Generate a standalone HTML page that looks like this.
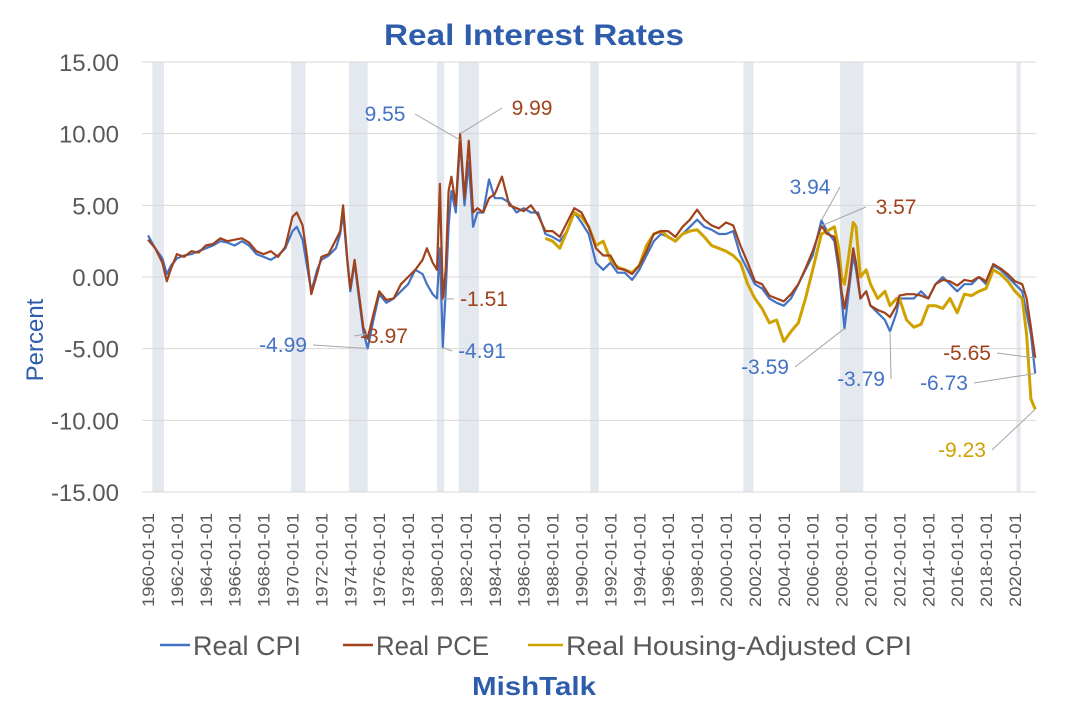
<!DOCTYPE html>
<html><head><meta charset="utf-8"><style>
body{margin:0;background:#fff;width:1080px;height:708px;overflow:hidden;font-family:"Liberation Sans",sans-serif}
svg text{font-family:"Liberation Sans",sans-serif}
</style></head><body>
<svg id="chart" width="1080" height="708" viewBox="0 0 1080 708" xmlns="http://www.w3.org/2000/svg">
<text x="534" y="45" text-anchor="middle" font-size="30" font-weight="bold" fill="#2E5DAB" textLength="300" lengthAdjust="spacingAndGlyphs">Real Interest Rates</text>
<g id="bands"></g>
<g id="grid"></g>
<g id="yticks"></g>
<g id="xticks"></g>
<g id="series"></g>
<g id="labels"></g>
<text transform="translate(43,340) rotate(-90)" text-anchor="middle" font-size="24" fill="#2E5DAB">Percent</text>
<g>
<g><line x1="160" y1="645" x2="190" y2="645" stroke="#4472C4" stroke-width="2.5"/><text x="193" y="655" font-size="27" fill="#595959" textLength="108" lengthAdjust="spacingAndGlyphs">Real CPI</text></g>
<g><line x1="343" y1="645" x2="373" y2="645" stroke="#A0421C" stroke-width="2.5"/><text x="376" y="655" font-size="27" fill="#595959" textLength="113" lengthAdjust="spacingAndGlyphs">Real PCE</text></g>
<g><line x1="528" y1="645" x2="563" y2="645" stroke="#CFA200" stroke-width="2.5"/><text x="566" y="655" font-size="27" fill="#595959" textLength="346" lengthAdjust="spacingAndGlyphs">Real Housing-Adjusted CPI</text></g>
</g>
<text x="534" y="695" text-anchor="middle" font-size="26" font-weight="bold" fill="#2E5DAB" textLength="124" lengthAdjust="spacingAndGlyphs">MishTalk</text>
</svg>
<script>
const years=[1960.0,1960.5,1961.0,1961.3,1961.6,1962.0,1962.5,1963.0,1963.5,1964.0,1964.5,1965.0,1965.5,1966.0,1966.5,1967.0,1967.5,1968.0,1968.5,1969.0,1969.5,1970.0,1970.3,1970.7,1971.0,1971.3,1971.7,1972.0,1972.5,1973.0,1973.3,1973.5,1973.8,1974.0,1974.3,1974.6,1974.9,1975.2,1975.6,1976.0,1976.5,1977.0,1977.5,1978.0,1978.5,1979.0,1979.3,1979.7,1980.0,1980.2,1980.4,1980.6,1980.8,1981.0,1981.3,1981.6,1981.9,1982.2,1982.5,1982.8,1983.2,1983.6,1984.0,1984.5,1985.0,1985.5,1986.0,1986.5,1987.0,1987.5,1988.0,1988.5,1989.0,1989.5,1990.0,1990.5,1991.0,1991.5,1992.0,1992.5,1993.0,1993.5,1994.0,1994.5,1995.0,1995.5,1996.0,1996.5,1997.0,1997.5,1998.0,1998.5,1999.0,1999.5,2000.0,2000.5,2001.0,2001.5,2002.0,2002.5,2003.0,2003.5,2004.0,2004.5,2005.0,2005.5,2006.0,2006.6,2007.0,2007.5,2007.8,2008.0,2008.2,2008.5,2008.8,2009.0,2009.3,2009.7,2010.0,2010.5,2011.0,2011.35,2011.8,2012.0,2012.5,2013.0,2013.5,2014.0,2014.5,2015.0,2015.5,2016.0,2016.5,2017.0,2017.5,2018.0,2018.5,2019.0,2019.5,2020.0,2020.5,2020.8,2021.1,2021.4];
const realCpi=[2.9,2.0,1.3,0.2,0.8,1.3,1.5,1.6,1.8,2.0,2.2,2.5,2.4,2.2,2.5,2.2,1.6,1.4,1.2,1.5,2.0,3.2,3.5,2.6,0.8,-1.0,0.5,1.2,1.5,2.0,3.0,4.5,1.0,-1.0,1.0,-1.5,-3.8,-4.99,-3.0,-1.2,-1.8,-1.5,-1.0,-0.5,0.5,0.2,-0.5,-1.2,-1.5,2.0,-4.91,-1.0,3.5,6.0,4.5,9.55,5.0,8.0,3.5,4.5,4.5,6.8,5.5,5.5,5.2,4.5,4.8,4.5,4.5,3.0,2.8,2.5,3.2,4.5,3.8,3.0,1.0,0.5,1.0,0.3,0.3,-0.2,0.5,1.5,2.5,3.0,2.8,2.5,3.0,3.5,4.0,3.5,3.3,3.0,3.0,3.2,1.5,0.5,-0.5,-0.8,-1.5,-1.8,-2.0,-1.5,-0.5,0.5,1.5,3.94,3.2,2.5,0.5,-1.5,-3.59,-1.0,1.5,0.5,-1.5,-1.0,-2.0,-2.5,-3.0,-3.79,-2.5,-1.5,-1.5,-1.5,-1.0,-1.5,-0.5,0.0,-0.5,-1.0,-0.5,-0.5,0.0,-0.5,0.8,0.5,0.0,-0.5,-1.0,-2.5,-4.0,-6.73];
const realPce=[2.6,2.0,1.0,-0.3,0.6,1.6,1.4,1.8,1.7,2.2,2.3,2.7,2.5,2.6,2.7,2.4,1.8,1.6,1.8,1.4,2.1,4.2,4.5,3.6,1.5,-1.2,0.2,1.4,1.6,2.6,3.2,5.0,1.2,-0.8,1.2,-1.2,-3.5,-4.3,-2.6,-1.0,-1.6,-1.5,-0.5,0.0,0.5,1.2,2.0,1.0,0.5,6.5,-1.51,0.5,6.0,7.0,5.0,9.99,5.5,9.5,4.5,4.8,4.5,5.5,5.8,7.0,5.0,4.8,4.6,5.0,4.3,3.2,3.2,2.8,3.8,4.8,4.5,3.5,2.0,1.5,1.5,0.6,0.5,0.2,0.8,1.8,3.0,3.2,3.2,2.8,3.5,4.0,4.7,4.0,3.6,3.4,3.8,3.6,2.2,1.0,-0.3,-0.5,-1.3,-1.5,-1.7,-1.2,-0.5,0.6,1.8,3.57,3.0,2.8,1.0,-1.0,-2.2,-0.5,2.0,1.0,-1.5,-1.0,-2.0,-2.3,-2.5,-2.8,-2.0,-1.3,-1.2,-1.2,-1.3,-1.5,-0.5,-0.2,-0.3,-0.6,-0.2,-0.3,0.0,-0.3,0.9,0.6,0.2,-0.3,-0.5,-1.5,-3.5,-5.65];
const realHousing=[null,null,null,null,null,null,null,null,null,null,null,null,null,null,null,null,null,null,null,null,null,null,null,null,null,null,null,null,null,null,null,null,null,null,null,null,null,null,null,null,null,null,null,null,null,null,null,null,null,null,null,null,null,null,null,null,null,null,null,null,null,null,null,null,null,null,null,null,null,2.7,2.5,2.0,3.2,4.5,4.2,3.5,2.2,2.5,1.2,0.7,0.5,0.3,0.8,2.2,3.0,3.2,2.8,2.5,3.0,3.2,3.3,2.8,2.2,2.0,1.8,1.5,1.0,-0.5,-1.5,-2.2,-3.2,-3.0,-4.5,-3.8,-3.2,-1.5,0.5,3.0,3.2,3.5,2.0,0.0,-0.5,1.5,3.8,3.5,0.0,0.5,-0.5,-1.5,-1.0,-2.0,-1.5,-1.5,-3.0,-3.5,-3.3,-2.0,-2.0,-2.2,-1.5,-2.5,-1.2,-1.3,-1.0,-0.8,0.5,0.2,-0.3,-1.0,-1.5,-4.0,-8.5,-9.23];
const yTickValues=[15,10,5,0,-5,-10,-15];
const yTickLabels=["15.00","10.00","5.00","0.00","-5.00","-10.00","-15.00"];
const xTickYears=[1960,1962,1964,1966,1968,1970,1972,1974,1976,1978,1980,1982,1984,1986,1988,1990,1992,1994,1996,1998,2000,2002,2004,2006,2008,2010,2012,2014,2016,2018,2020];
const recStart=[1960.3,1969.9,1973.9,1980.0,1981.5,1990.6,2001.2,2007.9,2020.1];
const recEnd=[1961.1,1970.9,1975.2,1980.5,1982.9,1991.2,2001.9,2009.5,2020.4];
const labelText=["9.55","9.99","-4.99","-3.97","-1.51","-4.91","3.94","3.57","-3.59","-3.79","-5.65","-6.73","-9.23"];
const labelYear=[1981.6,1981.6,1975.2,1975.2,1980.4,1980.4,2006.6,2006.6,2008.2,2011.35,2021.4,2021.4,2021.4];
const labelVal=[9.55,9.99,-4.99,-3.97,-1.51,-4.91,3.94,3.57,-3.59,-3.79,-5.65,-6.73,-9.23];

const NS="http://www.w3.org/2000/svg";
const X0=142,X1=1036,Y0=62,Y1=492;
const xs=y=>148+(y-1960)*14.45;
const ys=v=>277-v*(Y1-Y0)/30;
function mk(tag,attrs,parent,txt){const e=document.createElementNS(NS,tag);for(const k in attrs)e.setAttribute(k,attrs[k]);if(txt!==undefined)e.textContent=txt;parent.appendChild(e);return e;}
const bands=document.getElementById('bands');
recStart.forEach((s,i)=>{const r=mk('rect',{x:xs(s),y:Y0,width:Math.max(3,xs(recEnd[i])-xs(s)),height:Y1-Y0,fill:'#E4E8EF'},bands);

});
const grid=document.getElementById('grid'),yt=document.getElementById('yticks');
yTickValues.forEach((v,i)=>{const l=mk('line',{x1:X0,x2:X1,y1:ys(v),y2:ys(v),stroke:'#D9D9D9','stroke-width':1},grid);


const t=mk('text',{x:119,y:ys(v)+9,'text-anchor':'end','font-size':24,fill:'#595959'},yt,yTickLabels[i]);

});
const xt=document.getElementById('xticks');
xTickYears.forEach(yr=>{const x=xs(yr);const t=mk('text',{transform:`translate(${x+6},${607}) rotate(-90)`,'font-size':17,fill:'#595959',textLength:94,lengthAdjust:'spacingAndGlyphs'},xt,yr+'-01-01');

});
const ser=document.getElementById('series');
function line(vals,color,name){let d='';let pen=false;vals.forEach((v,i)=>{if(v===null){pen=false;return;}d+=(pen?'L':'M')+xs(years[i]).toFixed(1)+','+ys(v).toFixed(1);pen=true;});
const p=mk('path',{d:d,fill:'none',stroke:color,'stroke-width':name==='real-housing-line'?3:2.2,'stroke-linejoin':'round'},ser);

}
line(realCpi,'#4472C4','real-cpi-line');
line(realHousing,'#CFA200','real-housing-line');
line(realPce,'#A0421C','real-pce-line');
const lp=[[385,121,'#4472C4'],[532,115,'#A0421C'],[283,352,'#4472C4'],[384,343,'#A0421C'],[484,306,'#A0421C'],[482,358,'#4472C4'],[810,194,'#4472C4'],[896,214,'#A0421C'],[765,374,'#4472C4'],[861,386,'#4472C4'],[967,360,'#A0421C'],[944,390,'#4472C4'],[962,457,'#CFA200']];
const lab=document.getElementById('labels');
labelText.forEach((s,i)=>{const t=mk('text',{x:lp[i][0],y:lp[i][1],'text-anchor':'middle','font-size':21,fill:lp[i][2]},lab,s);


const px=xs(labelYear[i]),py=ys(labelVal[i]);const lx=lp[i][0]+(px>lp[i][0]?30:-30),ly=lp[i][1]-7;
const l=mk('line',{x1:lx,y1:ly,x2:px,y2:py,stroke:'#A6A6A6','stroke-width':1},lab);

});
</script>
</body></html>
